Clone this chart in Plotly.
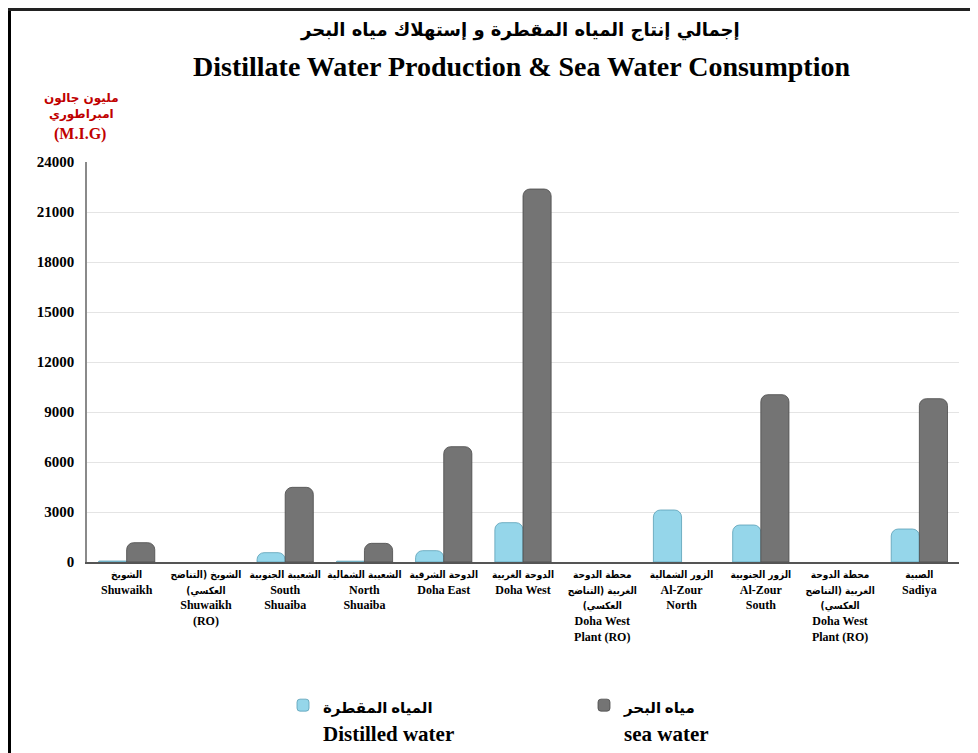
import plotly.graph_objects as go

RLM = "\u200f"
categories_ar = [
    "الشويخ",
    "الشويخ (التناضح<br>العكسي)" + RLM,
    "الشعيبة الجنوبية",
    "الشعيبة الشمالية",
    "الدوحة الشرقية",
    "الدوحة الغربية",
    "محطة الدوحة<br>الغربية (التناضح<br>العكسي)" + RLM,
    "الزور الشمالية",
    "الزور الجنوبية",
    "محطة الدوحة<br>الغربية (التناضح<br>العكسي)" + RLM,
    "الصبية",
]
categories_en = [
    "Shuwaikh",
    "Shuwaikh<br>(RO)",
    "South<br>Shuaiba",
    "North<br>Shuaiba",
    "Doha East",
    "Doha West",
    "Doha West<br>Plant (RO)",
    "Al-Zour<br>North",
    "Al-Zour<br>South",
    "Doha West<br>Plant (RO)",
    "Sadiya",
]
distilled = [60, 0, 560, 50, 680, 2360, 0, 3120, 2220, 0, 1980]
sea = [1160, 0, 4480, 1120, 6920, 22380, 0, 0, 10040, 0, 9800]
y_ticks = [0, 3000, 6000, 9000, 12000, 15000, 18000, 21000, 24000]

x_idx = list(range(len(categories_en)))
AR_STYLE = "font-size:10px;font-family:'DejaVu Sans Condensed','DejaVu Sans'"
tick_text = [
    f"<span style=\"{AR_STYLE}\"><b>{a}</b></span><br><b>{e}</b>"
    for a, e in zip(categories_ar, categories_en)
]

OFF = 8  # page body margin
W, H = 978 - OFF, 753 - OFF
L = 87 - OFF
R = W - (959 - OFF)
T = 162 - OFF
B = H - (562 - OFF)
pw, ph = W - L - R, H - T - B

def px_x(px):
    return (px - OFF - L) / pw

def px_y(py):
    return (H - B - (py - OFF)) / ph

fig = go.Figure()
fig.add_trace(go.Bar(
    x=x_idx, y=distilled,
    name="<span style='font-size:15px'><b>المياه المقطرة</b></span><br><b>Distilled water</b>",
    marker=dict(color="#95d6ea", line=dict(color="#5a9fb6", width=0.8)),
))
fig.add_trace(go.Bar(
    x=x_idx, y=sea,
    name="<span style='font-size:15px'><b>مياه البحر</b></span><br><b>sea water</b>",
    marker=dict(color="#747474", line=dict(color="#4a4a4a", width=0.8)),
))
for tr in fig.data:
    tr.marker.line.width = [0 if v == 0 else 0.8 for v in tr.y]

fig.update_layout(
    width=W, height=H,
    margin=dict(l=L, r=R, t=T, b=B, autoexpand=False),
    paper_bgcolor="white", plot_bgcolor="white",
    barmode="group", bargap=0.29, bargroupgap=0.0,
    barcornerradius=7,
    font=dict(family="Liberation Serif, DejaVu Sans", color="black"),
    showlegend=True,
    legend=dict(
        orientation="h", x=px_x(283), y=px_y(685), xanchor="left", yanchor="top",
        font=dict(size=21, family="Liberation Serif, DejaVu Sans", color="black"),
        entrywidth=256, valign="top", bgcolor="rgba(0,0,0,0)",
        itemwidth=30, tracegroupgap=0,
    ),
    xaxis=dict(
        tickmode="array", tickvals=x_idx, ticktext=tick_text, tickangle=0,
        range=[-0.5, len(x_idx) - 0.5],
        tickfont=dict(size=12, family="Liberation Serif, DejaVu Sans", color="black"),
        showline=True, linecolor="#555555", linewidth=1.5,
        ticks="", showgrid=False, zeroline=False,
    ),
    yaxis=dict(
        range=[0, 24000], tickmode="array", tickvals=y_ticks,
        ticktext=[f"<b>{v}</b>" for v in y_ticks],
        tickfont=dict(size=15, family="Liberation Serif", color="black"),
        showline=True, linecolor="#8a8a8a", linewidth=1.5,
        showgrid=True, gridcolor="#e4e4e4", gridwidth=1,
        zeroline=False, ticks="", ticklabelstandoff=8,
    ),
    annotations=[
        dict(text="<b>إجمالي إنتاج المياه المقطرة و إستهلاك مياه البحر</b>",
             xref="paper", yref="paper", x=px_x(520), y=px_y(30),
             xanchor="center", yanchor="middle", showarrow=False,
             font=dict(size=18, family="DejaVu Sans", color="black")),
        dict(text="<b>Distillate Water Production & Sea Water Consumption</b>",
             xref="paper", yref="paper", x=px_x(521), y=px_y(66),
             xanchor="center", yanchor="middle", showarrow=False,
             font=dict(size=28, family="Liberation Serif", color="black")),
        dict(text="<b>مليون جالون<br>امبراطوري</b>",
             xref="paper", yref="paper", x=px_x(81), y=px_y(106),
             xanchor="center", yanchor="middle", showarrow=False,
             font=dict(size=12, family="DejaVu Sans", color="#c00000")),
        dict(text="<b>(M.I.G)</b>",
             xref="paper", yref="paper", x=px_x(80), y=px_y(134),
             xanchor="center", yanchor="middle", showarrow=False,
             font=dict(size=16, family="Liberation Serif", color="#c00000")),
    ],
    shapes=[
        dict(type="line", xref="paper", yref="paper",
             x0=px_x(9.5), x1=px_x(9.5), y0=px_y(9), y1=px_y(770),
             line=dict(color="black", width=3)),
        dict(type="line", xref="paper", yref="paper",
             x0=px_x(8), x1=px_x(990), y0=px_y(9.5), y1=px_y(9.5),
             line=dict(color="#222222", width=3)),
    ],
)

fig.write_html("out.html")
